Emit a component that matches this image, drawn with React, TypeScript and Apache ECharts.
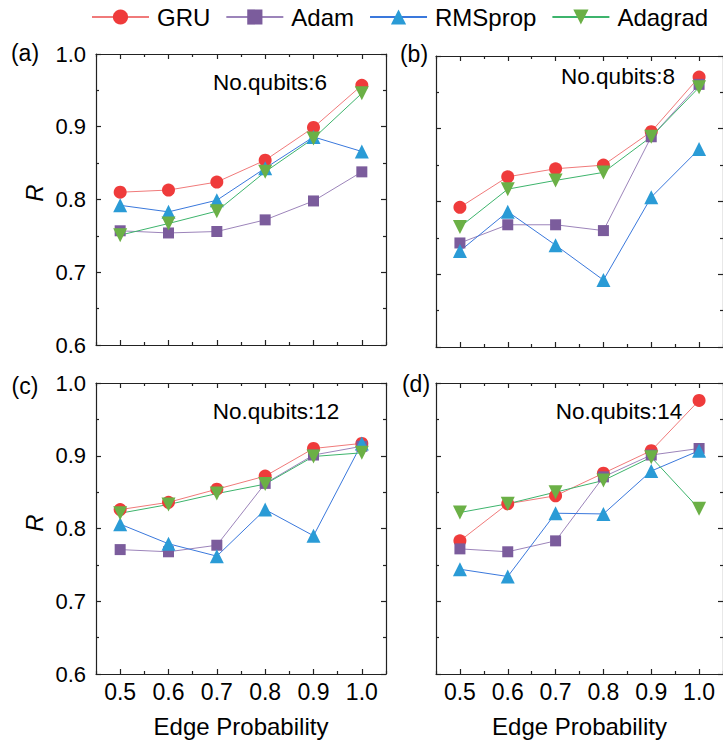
import React, { useEffect, useRef } from "react";
import * as echarts from "echarts";

const xCats = ["0.5", "0.6", "0.7", "0.8", "0.9", "1.0"];
const seriesNames = ["GRU", "Adam", "RMSprop", "Adagrad"];
const panelLabels = ["(a)", "(b)", "(c)", "(d)"];
const qubitLabels = ["No.qubits:6", "No.qubits:8", "No.qubits:12", "No.qubits:14"];

// panel (a): 6 qubits
const a_GRU = [0.81, 0.813, 0.824, 0.854, 0.899, 0.957];
const a_Adam = [0.757, 0.754, 0.756, 0.772, 0.798, 0.838];
const a_RMSprop = [0.792, 0.783, 0.799, 0.843, 0.886, 0.866];
const a_Adagrad = [0.751, 0.767, 0.784, 0.838, 0.884, 0.946];
// panel (b): 8 qubits
const b_GRU = [0.792, 0.834, 0.845, 0.85, 0.896, 0.971];
const b_Adam = [0.743, 0.768, 0.768, 0.76, 0.889, 0.961];
const b_RMSprop = [0.732, 0.786, 0.74, 0.692, 0.806, 0.872];
const b_Adagrad = [0.765, 0.817, 0.829, 0.84, 0.889, 0.957];
// panel (c): 12 qubits
const c_GRU = [0.826, 0.836, 0.854, 0.872, 0.91, 0.917];
const c_Adam = [0.771, 0.768, 0.777, 0.862, 0.901, 0.913];
const c_RMSprop = [0.806, 0.779, 0.762, 0.826, 0.79, 0.917];
const c_Adagrad = [0.821, 0.833, 0.848, 0.861, 0.899, 0.904];
// panel (d): 14 qubits
const d_GRU = [0.783, 0.834, 0.845, 0.876, 0.907, 0.976];
const d_Adam = [0.772, 0.768, 0.783, 0.871, 0.901, 0.91];
const d_RMSprop = [0.744, 0.734, 0.821, 0.82, 0.879, 0.907];
const d_Adagrad = [0.822, 0.834, 0.85, 0.866, 0.898, 0.827];

const panels = [
  [a_GRU, a_Adam, a_RMSprop, a_Adagrad],
  [b_GRU, b_Adam, b_RMSprop, b_Adagrad],
  [c_GRU, c_Adam, c_RMSprop, c_Adagrad],
  [d_GRU, d_Adam, d_RMSprop, d_Adagrad],
];

const markerColors = ["#EF3B3B", "#7B5C9C", "#2A9BD6", "#6BB046"];
const lineColors = ["#F07A7A", "#9C84BA", "#3A78DC", "#3DB46C"];
const symbols = ["circle", "rect", "triangle", "triangle"];
const symbolSizes = [13, 11, 14, 14];
const symbolRotates = [0, 0, 0, 180];

const FONT = "'Liberation Sans', Arial, Helvetica, sans-serif";

const grids = [
  { left: 96, top: 54, width: 290, height: 291 },
  { left: 436, top: 56, width: 291, height: 291 },
  { left: 96, top: 383, width: 290, height: 291 },
  { left: 436, top: 383, width: 291, height: 291 },
];
const panelLabelPos = [
  [25, 53],
  [414, 54],
  [25, 386],
  [416, 384],
];
const qubitPos = [
  [270, 82],
  [618, 76],
  [276, 411],
  [619, 411],
];
const rPos = [
  [34, 193],
  [34, 523],
];

export default function App() {
  const ref = useRef<HTMLDivElement>(null);
  useEffect(() => {
    if (!ref.current) return;
    const chart = echarts.init(ref.current, undefined, { renderer: "svg" });
    const axisLineStyle = { color: "#222", width: 1.2 };
    const xAxis: any[] = [];
    const yAxis: any[] = [];
    const series: any[] = [];
    grids.forEach((g, i) => {
      const base = i * 4;
      xAxis.push({
        gridIndex: i,
        type: "category",
        data: xCats,
        position: "bottom",
        boundaryGap: true,
        axisLine: { show: true, lineStyle: axisLineStyle },
        axisTick: { show: true, inside: true, alignWithLabel: true, length: 5, interval: 0, lineStyle: axisLineStyle },
        axisLabel: { show: i >= 2, interval: 0, fontSize: 23, margin: 6, color: "#000", fontFamily: FONT },
        splitLine: { show: false },
        name: i >= 2 ? "Edge Probability" : "",
        nameLocation: "middle",
        nameGap: 40,
        nameTextStyle: { fontSize: 24, color: "#000", fontFamily: FONT },
      });
      xAxis.push({
        gridIndex: i,
        type: "category",
        data: xCats,
        position: "top",
        boundaryGap: true,
        axisLine: { show: true, lineStyle: axisLineStyle },
        axisTick: { show: true, inside: true, alignWithLabel: true, length: 5, interval: 0, lineStyle: axisLineStyle },
        axisLabel: { show: false, interval: 0 },
        splitLine: { show: false },
      });
      ["bottom", "top"].forEach((pos) => {
        xAxis.push({
          gridIndex: i,
          type: "category",
          data: xCats,
          position: pos,
          boundaryGap: true,
          axisLine: { show: false },
          axisTick: { show: true, inside: true, alignWithLabel: false, length: 3, interval: 0, lineStyle: axisLineStyle },
          axisLabel: { show: false, interval: 0 },
          splitLine: { show: false },
        });
      });
      ["left", "right"].forEach((pos) => {
        yAxis.push({
          gridIndex: i,
          type: "value",
          min: 0.6,
          max: 1.0,
          interval: 0.1,
          position: pos,
          axisLine: { show: true, lineStyle: axisLineStyle },
          axisTick: { show: true, inside: true, length: 5, lineStyle: axisLineStyle },
          minorTick: { show: true, splitNumber: 2, length: 3, lineStyle: axisLineStyle },
          axisLabel: {
            show: pos === "left" && i % 2 === 0,
            fontSize: 22,
            margin: 10,
            color: "#000",
            fontFamily: FONT,
            formatter: (v: number) => v.toFixed(1),
          },
          splitLine: { show: false },
          minorSplitLine: { show: false },
        });
      });
      panels[i].forEach((vals, s) => {
        series.push({
          type: "line",
          name: seriesNames[s],
          xAxisIndex: base,
          yAxisIndex: i * 2,
          data: vals,
          symbol: symbols[s],
          symbolSize: symbolSizes[s],
          symbolRotate: symbolRotates[s],
          showAllSymbol: true,
          itemStyle: { color: markerColors[s] },
          lineStyle: { color: lineColors[s], width: 1 },
          emphasis: { disabled: true },
        });
      });
    });

    const graphic: any[] = [];
    panelLabels.forEach((t, i) => {
      graphic.push({
        type: "text",
        x: panelLabelPos[i][0],
        y: panelLabelPos[i][1],
        style: {
          text: t,
          fontSize: 23,
          fontFamily: FONT,
          fill: "#000",
          align: "center",
          verticalAlign: "middle",
          textAlign: "center",
          textVerticalAlign: "middle",
        },
      });
    });
    qubitLabels.forEach((t, i) => {
      graphic.push({
        type: "text",
        x: qubitPos[i][0],
        y: qubitPos[i][1],
        style: {
          text: t,
          fontSize: 22.5,
          fontFamily: FONT,
          fill: "#000",
          align: "center",
          verticalAlign: "middle",
          textAlign: "center",
          textVerticalAlign: "middle",
        },
      });
    });
    rPos.forEach((p) => {
      graphic.push({
        type: "text",
        x: p[0],
        y: p[1],
        rotation: Math.PI / 2,
        style: {
          text: "R",
          fontSize: 24,
          fontStyle: "italic",
          fontFamily: FONT,
          fill: "#000",
          align: "center",
          verticalAlign: "middle",
          textAlign: "center",
          textVerticalAlign: "middle",
        },
      });
    });

    chart.setOption({
      animation: false,
      backgroundColor: "#fff",
      legend: {
        data: seriesNames,
        left: 91,
        top: 5,
        width: 632,
        padding: 0,
        itemWidth: 57,
        itemHeight: 19,
        itemGap: 15,
        lineStyle: { width: 2 },
        textStyle: { fontSize: 24, color: "#000", fontFamily: FONT, padding: [0, 0, 0, 3] },
        selectedMode: false,
      },
      grid: grids.map((g) => ({ ...g, containLabel: false })),
      xAxis,
      yAxis,
      series,
      graphic,
    });
    return () => chart.dispose();
  }, []);
  return (
    <div
      ref={ref}
      style={{ position: "absolute", left: 0, top: 0, width: 723, height: 749 }}
    />
  );
}
